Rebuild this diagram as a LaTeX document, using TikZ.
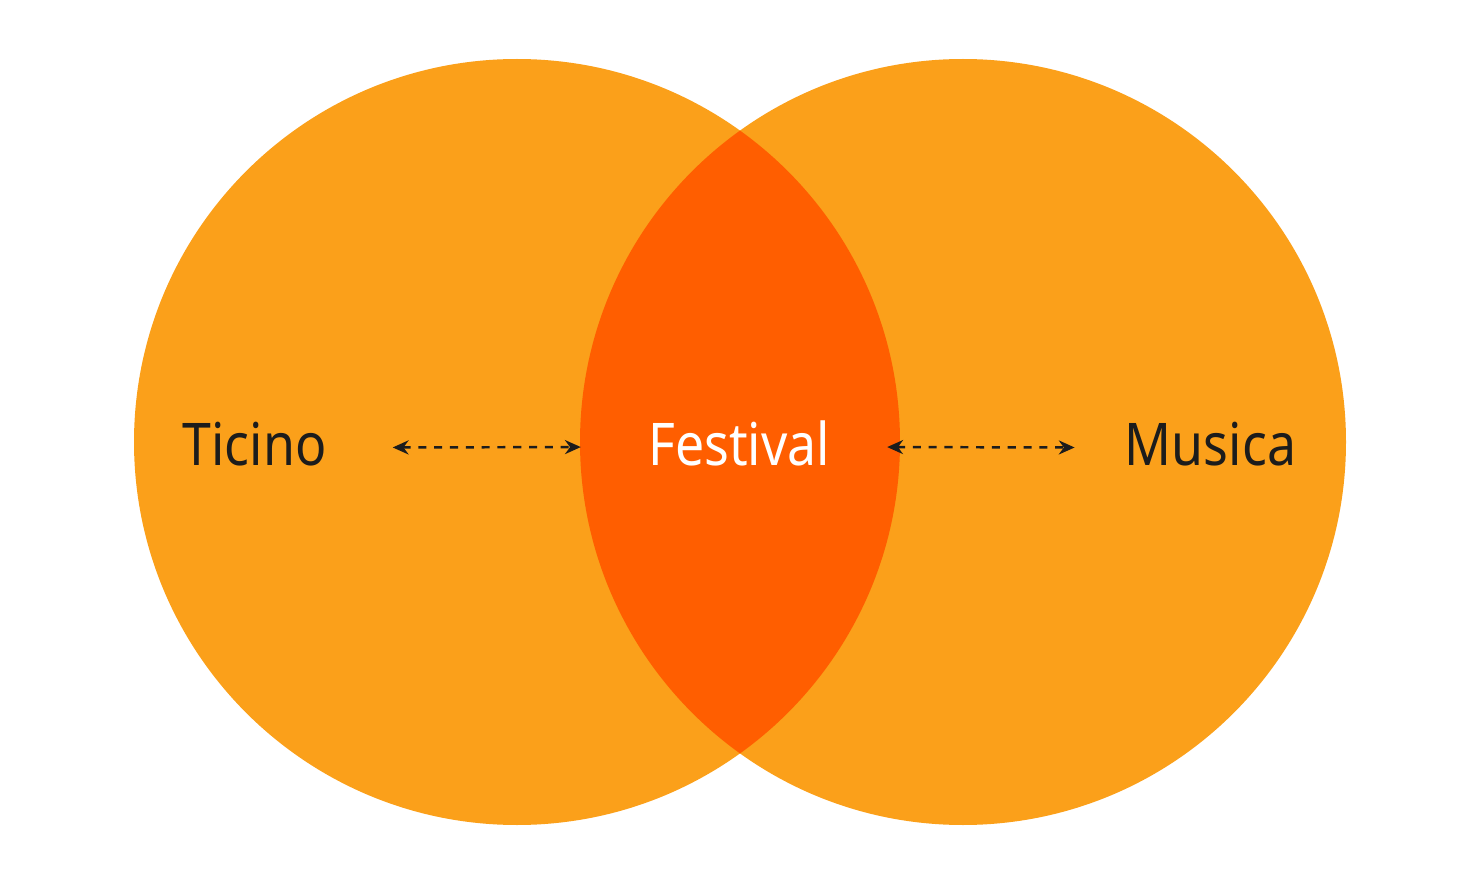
\documentclass[tikz,border=0pt]{standalone}
\usepackage{fontspec}
\setmainfont{Noto Sans}[FakeStretch=0.88]
\usepackage{tikz}
\usetikzlibrary{arrows.meta,positioning}
\definecolor{circleorange}{HTML}{FBA01A}
\definecolor{lensred}{HTML}{FF5E00}
\definecolor{labelgray}{HTML}{1C1C1C}
\tikzset{
	lbl/.style={font=\fontsize{33.5}{40}\selectfont, text=labelgray, inner sep=0pt, anchor=base},
	dasharrow/.style={{Stealth[length=9pt,width=8pt]}-{Stealth[length=9pt,width=8pt]}, line width=1.4pt, labelgray, dash pattern=on 4.6pt off 4.4pt}
}
\begin{document}
\begin{tikzpicture}
		\useasboundingbox (0,0) rectangle (29.4,-17.64);
		\fill[circleorange] (10.34,-8.84) circle (7.66);
		\fill[circleorange] (19.26,-8.84) circle (7.66);
		\begin{scope}
		\clip (10.34,-8.84) circle (7.66);
		\fill[lensred] (19.26,-8.84) circle (7.66);
		\end{scope}
		\node[lbl] (ticino) at (5.09, -9.3) {Ticino};
		\node[lbl, text=white] (festival) at (14.78, -9.3) {Festival};
		\node[lbl] (musica) at (24.21, -9.3) {Musica};
		\draw[dasharrow, shorten <=1.32cm, shorten >=1.34cm] ([yshift=-0.08cm]ticino.east) -- ([yshift=-0.08cm]festival.west);
		\draw[dasharrow, shorten <=1.14cm, shorten >=1.0cm] ([yshift=-0.08cm]festival.east) -- ([yshift=-0.08cm]musica.west);
		\end{tikzpicture}
\end{document}
